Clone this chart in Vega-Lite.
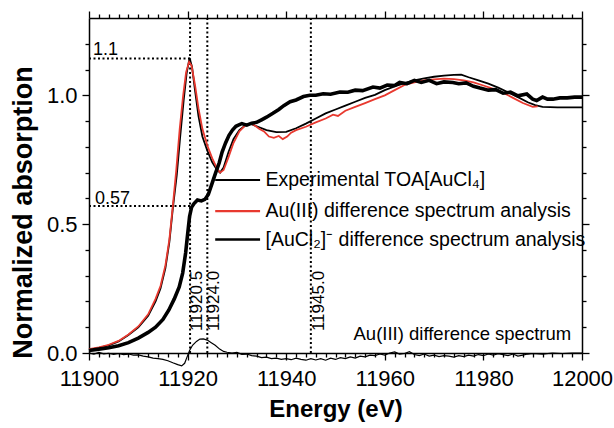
{
  "$schema": "https://vega.github.io/schema/vega-lite/v6.json",
  "width": 493,
  "height": 335,
  "autosize": "none",
  "padding": {"left": 89, "top": 18, "right": 32, "bottom": 75},
  "background": "white",
  "config": {
    "view": {"stroke": null},
    "font": "Liberation Sans",
    "axis": {"domainColor": "black", "tickColor": "black", "labelColor": "black", "titleColor": "black", "domainWidth": 1.5, "tickWidth": 1.3, "grid": false, "labelFont": "Liberation Sans", "titleFont": "Liberation Sans"}
  },
  "datasets": {
    "exp": [
      {"E":11900,"A":0.012},{"E":11902,"A":0.02},{"E":11904,"A":0.03},{"E":11906,"A":0.045},{"E":11908,"A":0.07},{"E":11910,"A":0.1},{"E":11912,"A":0.145},{"E":11913.5,"A":0.2},{"E":11914.5,"A":0.25},{"E":11915.5,"A":0.33},{"E":11916.3,"A":0.43},{"E":11917,"A":0.56},{"E":11917.8,"A":0.69},{"E":11918.5,"A":0.84},{"E":11919.2,"A":0.98},{"E":11919.8,"A":1.085},{"E":11920.4,"A":1.145},{"E":11920.9,"A":1.11},{"E":11921.5,"A":1.02},{"E":11922.2,"A":0.92},{"E":11923,"A":0.84},{"E":11924,"A":0.785},{"E":11925,"A":0.74},{"E":11926,"A":0.71},{"E":11926.6,"A":0.7},{"E":11927.3,"A":0.72},{"E":11928.3,"A":0.78},{"E":11929.3,"A":0.83},{"E":11930.5,"A":0.865},{"E":11931.8,"A":0.885},{"E":11932.7,"A":0.89},{"E":11934,"A":0.88},{"E":11936,"A":0.865},{"E":11938,"A":0.857},{"E":11940,"A":0.858},{"E":11942,"A":0.872},{"E":11944,"A":0.89},{"E":11946,"A":0.91},{"E":11948,"A":0.93},{"E":11950,"A":0.945},{"E":11952,"A":0.96},{"E":11954,"A":0.975},{"E":11956,"A":0.99},{"E":11958,"A":1.002},{"E":11960,"A":1.02},{"E":11962,"A":1.035},{"E":11964,"A":1.047},{"E":11966,"A":1.058},{"E":11968,"A":1.066},{"E":11970,"A":1.072},{"E":11972,"A":1.076},{"E":11974,"A":1.079},{"E":11975.5,"A":1.08},{"E":11977,"A":1.07},{"E":11979,"A":1.058},{"E":11981,"A":1.045},{"E":11983,"A":1.03},{"E":11985,"A":1.012},{"E":11987,"A":0.993},{"E":11989,"A":0.973},{"E":11990.5,"A":0.962},{"E":11992,"A":0.955},{"E":11995,"A":0.953},{"E":11998,"A":0.953},{"E":12000,"A":0.953}
    ],
    "red": [
      {"E":11900,"A":0.015},{"E":11902,"A":0.022},{"E":11904,"A":0.032},{"E":11906,"A":0.047},{"E":11908,"A":0.072},{"E":11910,"A":0.103},{"E":11912,"A":0.15},{"E":11913.5,"A":0.21},{"E":11914.5,"A":0.26},{"E":11915.5,"A":0.34},{"E":11916.3,"A":0.44},{"E":11917,"A":0.57},{"E":11917.7,"A":0.71},{"E":11918.4,"A":0.87},{"E":11919.1,"A":1.0},{"E":11919.7,"A":1.09},{"E":11920.3,"A":1.13},{"E":11920.8,"A":1.115},{"E":11921.5,"A":1.04},{"E":11922.2,"A":0.95},{"E":11923,"A":0.87},{"E":11924,"A":0.805},{"E":11925,"A":0.755},{"E":11926,"A":0.715},{"E":11926.6,"A":0.7},{"E":11927.3,"A":0.71},{"E":11928.3,"A":0.76},{"E":11929.3,"A":0.815},{"E":11930.5,"A":0.86},{"E":11931.8,"A":0.885},{"E":11932.7,"A":0.89},{"E":11933.5,"A":0.885},{"E":11934.5,"A":0.87},{"E":11935.5,"A":0.86},{"E":11936.5,"A":0.84},{"E":11937.5,"A":0.835},{"E":11938.5,"A":0.842},{"E":11939.3,"A":0.83},{"E":11940.2,"A":0.84},{"E":11941,"A":0.855},{"E":11942,"A":0.865},{"E":11944,"A":0.878},{"E":11946,"A":0.895},{"E":11948,"A":0.91},{"E":11949.5,"A":0.925},{"E":11950.5,"A":0.92},{"E":11952,"A":0.94},{"E":11954,"A":0.955},{"E":11956,"A":0.97},{"E":11958,"A":0.985},{"E":11960,"A":1.0},{"E":11962,"A":1.02},{"E":11964,"A":1.04},{"E":11966,"A":1.05},{"E":11968,"A":1.058},{"E":11970,"A":1.062},{"E":11972,"A":1.065},{"E":11974,"A":1.063},{"E":11976,"A":1.058},{"E":11978,"A":1.05},{"E":11980,"A":1.038},{"E":11982,"A":1.025},{"E":11984,"A":1.01},{"E":11986,"A":0.99},{"E":11988,"A":0.97},{"E":11990,"A":0.955},{"E":11991,"A":0.957}
    ],
    "thick": [
      {"E":11900,"A":0.01},{"E":11902,"A":0.015},{"E":11904,"A":0.02},{"E":11906,"A":0.028},{"E":11908,"A":0.04},{"E":11910,"A":0.058},{"E":11912,"A":0.08},{"E":11913.5,"A":0.1},{"E":11915,"A":0.13},{"E":11916.2,"A":0.167},{"E":11917.3,"A":0.21},{"E":11918.3,"A":0.256},{"E":11919,"A":0.31},{"E":11919.6,"A":0.388},{"E":11920,"A":0.46},{"E":11920.4,"A":0.53},{"E":11920.8,"A":0.565},{"E":11921.3,"A":0.58},{"E":11922,"A":0.594},{"E":11922.8,"A":0.59},{"E":11923.5,"A":0.596},{"E":11924.2,"A":0.615},{"E":11925,"A":0.66},{"E":11925.7,"A":0.7},{"E":11926.4,"A":0.737},{"E":11927,"A":0.78},{"E":11927.7,"A":0.815},{"E":11928.4,"A":0.845},{"E":11929.1,"A":0.865},{"E":11929.8,"A":0.88},{"E":11930.4,"A":0.885},{"E":11931,"A":0.89},{"E":11932,"A":0.884},{"E":11933,"A":0.892},{"E":11934,"A":0.895},{"E":11935,"A":0.905},{"E":11936,"A":0.915},{"E":11937.3,"A":0.93},{"E":11938.5,"A":0.945},{"E":11939.5,"A":0.96},{"E":11940.8,"A":0.975},{"E":11942,"A":0.982},{"E":11943.5,"A":0.995},{"E":11944.8,"A":1.0},{"E":11946,"A":1.0},{"E":11947.5,"A":1.006},{"E":11949,"A":1.004},{"E":11950.9,"A":1.013},{"E":11952.5,"A":1.012},{"E":11954,"A":1.02},{"E":11955.5,"A":1.018},{"E":11957.6,"A":1.032},{"E":11959,"A":1.028},{"E":11960.5,"A":1.04},{"E":11962,"A":1.038},{"E":11963,"A":1.05},{"E":11964.5,"A":1.045},{"E":11966,"A":1.058},{"E":11967.4,"A":1.05},{"E":11969,"A":1.058},{"E":11970.5,"A":1.045},{"E":11972,"A":1.052},{"E":11973.8,"A":1.05},{"E":11975,"A":1.045},{"E":11976.5,"A":1.048},{"E":11978,"A":1.035},{"E":11979.3,"A":1.028},{"E":11981,"A":1.02},{"E":11982.5,"A":1.022},{"E":11984,"A":1.008},{"E":11985.5,"A":1.012},{"E":11987,"A":0.998},{"E":11988.8,"A":1.005},{"E":11990,"A":0.985},{"E":11990.8,"A":0.98},{"E":11992,"A":0.993},{"E":11993,"A":0.985},{"E":11994.1,"A":0.985},{"E":11995.5,"A":0.99},{"E":11997,"A":0.99},{"E":11998.5,"A":0.993},{"E":12000,"A":0.993}
    ],
    "diff": [
      {"E":11900,"A":0.0},{"E":11901,"A":-0.004},{"E":11902,"A":0.002},{"E":11903,"A":-0.003},{"E":11904,"A":-0.001},{"E":11905,"A":-0.005},{"E":11906,"A":-0.002},{"E":11907,"A":-0.006},{"E":11908,"A":-0.004},{"E":11909,"A":-0.008},{"E":11910,"A":-0.007},{"E":11911,"A":-0.012},{"E":11912,"A":-0.015},{"E":11913,"A":-0.02},{"E":11914,"A":-0.022},{"E":11915,"A":-0.025},{"E":11916,"A":-0.03},{"E":11917,"A":-0.038},{"E":11918,"A":-0.045},{"E":11918.8,"A":-0.05},{"E":11919.4,"A":-0.04},{"E":11919.9,"A":-0.015},{"E":11920.4,"A":0.01},{"E":11921,"A":0.03},{"E":11921.8,"A":0.045},{"E":11922.5,"A":0.054},{"E":11923.2,"A":0.055},{"E":11924,"A":0.05},{"E":11924.8,"A":0.04},{"E":11925.6,"A":0.03},{"E":11926.5,"A":0.015},{"E":11927.3,"A":0.006},{"E":11928,"A":0.003},{"E":11929,"A":0.0},{"E":11930,"A":0.002},{"E":11931,"A":-0.005},{"E":11932,"A":-0.004},{"E":11933,"A":-0.01},{"E":11934,"A":-0.012},{"E":11935,"A":-0.018},{"E":11936,"A":-0.016},{"E":11937,"A":-0.022},{"E":11938,"A":-0.02},{"E":11939,"A":-0.025},{"E":11940,"A":-0.022},{"E":11941,"A":-0.026},{"E":11942,"A":-0.02},{"E":11943,"A":-0.025},{"E":11944,"A":-0.028},{"E":11945,"A":-0.022},{"E":11946,"A":-0.027},{"E":11947,"A":-0.022},{"E":11948,"A":-0.028},{"E":11949,"A":-0.02},{"E":11950,"A":-0.025},{"E":11951,"A":-0.018},{"E":11952,"A":-0.022},{"E":11953,"A":-0.015},{"E":11954,"A":-0.02},{"E":11955,"A":-0.012},{"E":11956,"A":-0.015},{"E":11957,"A":-0.008},{"E":11958,"A":-0.01},{"E":11959,"A":-0.004},{"E":11960,"A":-0.008},{"E":11961,"A":0.0},{"E":11962,"A":0.004},{"E":11963,"A":-0.004},{"E":11964,"A":-0.002},{"E":11965,"A":0.005},{"E":11966,"A":-0.006},{"E":11967,"A":-0.01},{"E":11968,"A":-0.004},{"E":11969,"A":-0.012},{"E":11970,"A":-0.008},{"E":11971,"A":-0.014},{"E":11972,"A":-0.01},{"E":11973,"A":-0.012},{"E":11974,"A":-0.016},{"E":11975,"A":-0.01},{"E":11976,"A":-0.014},{"E":11977,"A":-0.008},{"E":11978,"A":-0.012},{"E":11979,"A":-0.006},{"E":11980,"A":-0.01},{"E":11981,"A":-0.004},{"E":11982,"A":-0.008},{"E":11983,"A":-0.003},{"E":11984,"A":-0.006},{"E":11985,"A":-0.01},{"E":11986,"A":-0.004},{"E":11987,"A":-0.012},{"E":11988,"A":-0.008},{"E":11989,"A":-0.004},{"E":11990,"A":-0.002},{"E":11992,"A":-0.004},{"E":11994,"A":0.0},{"E":11996,"A":-0.002},{"E":11998,"A":0.0},{"E":12000,"A":0.0}
    ],
    "vlines": [{"E":11920.5},{"E":11924},{"E":11945}],
    "hlines": [{"E1":11900,"E2":11920.5,"A":1.143},{"E1":11900,"E2":11920.5,"A":0.57}],
    "hlabels": [{"E":11900.8,"A":1.155,"t":"1.1"},{"E":11901.2,"A":0.58,"t":"0.57"}],
    "vlabels": [{"E":11921.9,"A":0.085,"t":"11920.5"},{"E":11925.4,"A":0.085,"t":"11924.0"},{"E":11946.6,"A":0.085,"t":"11945.0"}],
    "legline": [
      {"E1":11925.6,"E2":11934.7,"A":0.671,"s":"exp"},
      {"E1":11925.6,"E2":11934.7,"A":0.551,"s":"red"},
      {"E1":11925.6,"E2":11934.7,"A":0.44,"s":"thick"}
    ],
    "legtext": [
      {"E":11935.8,"A":0.671,"t":"Experimental TOA[AuCl₄]"},
      {"E":11935.8,"A":0.551,"t":"Au(III) difference spectrum analysis"},
      {"E":11935.8,"A":0.44,"t":"[AuCl₂]⁻ difference spectrum analysis"}
    ],
    "spec": [{"E":11997.8,"A":0.05,"t":"Au(III) difference spectrum"}]
  },
  "layer": [
    {
      "data": {"name": "vlines"},
      "mark": {"type": "rule", "color": "black", "strokeWidth": 2, "strokeDash": [2, 2.5]},
      "encoding": {
        "x": {"field": "E", "type": "quantitative", "scale": {"domain": [11900, 12000], "nice": false, "zero": false}, "axis": null}
      }
    },
    {
      "data": {"name": "hlines"},
      "mark": {"type": "rule", "color": "black", "strokeWidth": 2, "strokeDash": [2, 2.5]},
      "encoding": {
        "x": {"field": "E1", "type": "quantitative", "axis": null},
        "x2": {"field": "E2"},
        "y": {"field": "A", "type": "quantitative", "scale": {"domain": [0, 1.3], "nice": false, "zero": false}, "axis": null}
      }
    },
    {
      "data": {"name": "diff"},
      "mark": {"type": "line", "color": "black", "strokeWidth": 1.2},
      "encoding": {
        "x": {"field": "E", "type": "quantitative", "axis": null},
        "y": {"field": "A", "type": "quantitative", "axis": null}
      }
    },
    {
      "data": {"name": "exp"},
      "mark": {"type": "line", "color": "black", "strokeWidth": 1.8},
      "encoding": {
        "x": {"field": "E", "type": "quantitative", "scale": {"domain": [11900, 12000], "nice": false, "zero": false},
          "axis": {"orient": "bottom", "values": [11900,11902,11904,11906,11908,11910,11912,11914,11916,11918,11920,11922,11924,11926,11928,11930,11932,11934,11936,11938,11940,11942,11944,11946,11948,11950,11952,11954,11956,11958,11960,11962,11964,11966,11968,11970,11972,11974,11976,11978,11980,11982,11984,11986,11988,11990,11992,11994,11996,11998,12000],
            "format": "d", "labelExpr": "datum.value % 20 === 0 ? datum.label : ''", "labelOverlap": false, "labelFlush": false, "labelFontSize": 22, "labelPadding": 8,
            "tickSize": {"condition": {"test": "datum.value % 20 === 0", "value": 7}, "value": 4},
            "title": "Energy (eV)", "titleFontSize": 24, "titleFontWeight": "bold", "titlePadding": 8}},
        "y": {"field": "A", "type": "quantitative", "scale": {"domain": [0, 1.3], "nice": false, "zero": false},
          "axis": {"orient": "left", "values": [0,0.1,0.2,0.3,0.4,0.5,0.6,0.7,0.8,0.9,1.0,1.1,1.2],
            "format": ".1f", "labelExpr": "round(datum.value*10) % 5 === 0 ? datum.label : ''", "labelOverlap": false, "labelFlush": false, "labelFontSize": 22, "labelPadding": 5,
            "tickSize": {"condition": {"test": "round(datum.value*10) % 5 === 0", "value": 7}, "value": 4},
            "title": "Normalized absorption", "titleFontSize": 27, "titleFontWeight": "bold", "titleAngle": 270, "titleAlign": "center", "titleBaseline": "middle", "titleX": -66, "titleY": 194}}
      }
    },
    {
      "data": {"name": "red"},
      "mark": {"type": "line", "color": "#e8392f", "strokeWidth": 1.8},
      "encoding": {
        "x": {"field": "E", "type": "quantitative",
          "axis": {"orient": "top", "values": [11900,11902,11904,11906,11908,11910,11912,11914,11916,11918,11920,11922,11924,11926,11928,11930,11932,11934,11936,11938,11940,11942,11944,11946,11948,11950,11952,11954,11956,11958,11960,11962,11964,11966,11968,11970,11972,11974,11976,11978,11980,11982,11984,11986,11988,11990,11992,11994,11996,11998,12000],
            "labels": false, "title": null,
            "tickSize": {"condition": {"test": "datum.value % 20 === 0", "value": 7}, "value": 4}}},
        "y": {"field": "A", "type": "quantitative",
          "axis": {"orient": "right", "values": [0,0.1,0.2,0.3,0.4,0.5,0.6,0.7,0.8,0.9,1.0,1.1,1.2],
            "labels": false, "title": null,
            "tickSize": {"condition": {"test": "round(datum.value*10) % 5 === 0", "value": 7}, "value": 4}}}
      }
    },
    {
      "data": {"name": "thick"},
      "mark": {"type": "line", "color": "black", "strokeWidth": 3.6},
      "encoding": {
        "x": {"field": "E", "type": "quantitative", "axis": null},
        "y": {"field": "A", "type": "quantitative", "axis": null}
      }
    },
    {
      "data": {"name": "legline"},
      "mark": {"type": "rule"},
      "encoding": {
        "x": {"field": "E1", "type": "quantitative", "axis": null},
        "x2": {"field": "E2"},
        "y": {"field": "A", "type": "quantitative", "axis": null},
        "color": {"field": "s", "type": "nominal", "scale": {"domain": ["exp", "red", "thick"], "range": ["black", "#e8392f", "black"]}, "legend": null},
        "strokeWidth": {"field": "s", "type": "nominal", "scale": {"domain": ["exp", "red", "thick"], "range": [2, 2.5, 4.5]}, "legend": null}
      }
    },
    {
      "data": {"name": "legtext"},
      "mark": {"type": "text", "align": "left", "baseline": "middle", "fontSize": 19.5, "color": "black"},
      "encoding": {
        "x": {"field": "E", "type": "quantitative", "axis": null},
        "y": {"field": "A", "type": "quantitative", "axis": null},
        "text": {"field": "t"}
      }
    },
    {
      "data": {"name": "hlabels"},
      "mark": {"type": "text", "align": "left", "baseline": "alphabetic", "fontSize": 18, "color": "black"},
      "encoding": {
        "x": {"field": "E", "type": "quantitative", "axis": null},
        "y": {"field": "A", "type": "quantitative", "axis": null},
        "text": {"field": "t"}
      }
    },
    {
      "data": {"name": "vlabels"},
      "mark": {"type": "text", "align": "left", "baseline": "middle", "angle": 270, "fontSize": 17, "color": "black"},
      "encoding": {
        "x": {"field": "E", "type": "quantitative", "axis": null},
        "y": {"field": "A", "type": "quantitative", "axis": null},
        "text": {"field": "t"}
      }
    },
    {
      "data": {"name": "spec"},
      "mark": {"type": "text", "align": "right", "baseline": "alphabetic", "fontSize": 18.5, "color": "black"},
      "encoding": {
        "x": {"field": "E", "type": "quantitative", "axis": null},
        "y": {"field": "A", "type": "quantitative", "axis": null},
        "text": {"field": "t"}
      }
    }
  ],
  "resolve": {"axis": {"x": "independent", "y": "independent"}}
}
